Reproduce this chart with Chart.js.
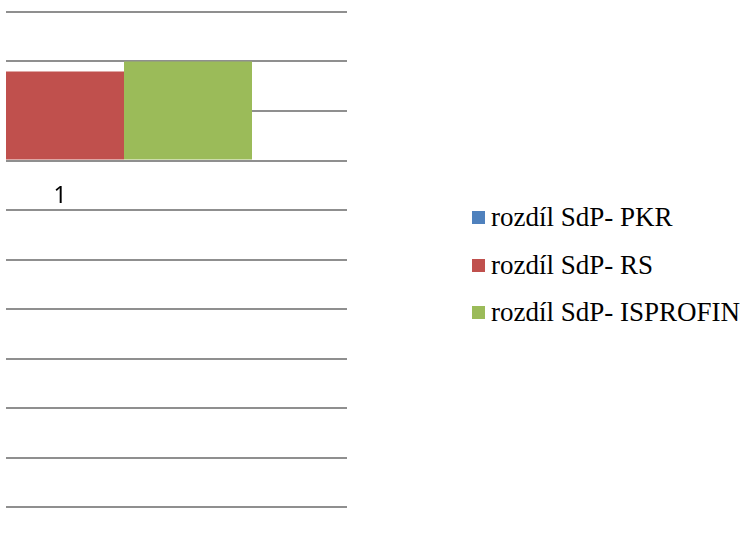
<!DOCTYPE html>
<html>
<head>
<meta charset="utf-8">
<script src="https://cdn.jsdelivr.net/npm/chart.js@4.4.1/dist/chart.umd.min.js"></script>
<style>
  html, body { margin: 0; padding: 0; background: #fff; }
  body { width: 741px; height: 557px; position: relative; overflow: hidden; }
  .clip { position: absolute; left: 6px; top: 0; width: 735px; height: 557px; overflow: hidden; }
  .chart-box { position: absolute; left: -233px; top: 0; width: 574px; height: 557px; }
  .legend { position: absolute; left: 472px; top: 202px; font-family: "Liberation Serif", "Times New Roman", serif; font-size: 27px; color: #000; }
  .legend div { position: absolute; left: 0; height: 30px; line-height: 30px; white-space: nowrap; padding-left: 19px; }
  .legend span { position: absolute; left: 0; top: 9px; width: 13px; height: 13px; }
</style>
</head>
<body>
<div class="clip"><div class="chart-box"><canvas id="c"></canvas></div></div>
<div class="legend" id="legend"></div>
<script>
// kategorie a hodnoty
const categories = ['1'];
const seriesNames = ['rozdíl SdP- PKR', 'rozdíl SdP- RS', 'rozdíl SdP- ISPROFIN'];
const pkrValues = [1.5];
const rsValues = [1.8];
const isprofinValues = [2.0];
const seriesColors = ['#4F81BD', '#C0504D', '#9BBB59'];

const allValues = [pkrValues, rsValues, isprofinValues];

const ctx = document.getElementById('c').getContext('2d');
new Chart(ctx, {
  type: 'bar',
  data: {
    labels: categories,
    datasets: seriesNames.map((name, i) => ({
      label: name,
      data: allValues[i],
      backgroundColor: seriesColors[i],
      borderWidth: 0,
      categoryPercentage: 0.669,
      barPercentage: 1
    }))
  },
  options: {
    responsive: true,
    maintainAspectRatio: false,
    animation: false,
    layout: { padding: { top: 12, bottom: 50, left: 0, right: 0 } },
    plugins: {
      legend: { display: false },
      tooltip: { enabled: false }
    },
    scales: {
      x: {
        position: { y: 0 },
        grid: { display: false, drawTicks: false },
        border: { display: false },
        ticks: {
          padding: 22,
          color: '#000',
          font: { family: 'Noto Sans', size: 23 }
        }
      },
      y: {
        min: -7,
        max: 3,
        ticks: { display: false, stepSize: 1 },
        border: { display: false },
        grid: { color: '#8f8f8f', lineWidth: 2, drawTicks: false }
      }
    }
  }
});

// legenda
const legend = document.getElementById('legend');
seriesNames.forEach((name, i) => {
  const row = document.createElement('div');
  row.style.top = (i * 47.5) + 'px';
  const box = document.createElement('span');
  box.style.background = seriesColors[i];
  row.appendChild(box);
  row.appendChild(document.createTextNode(name));
  legend.appendChild(row);
});
</script>
</body>
</html>
